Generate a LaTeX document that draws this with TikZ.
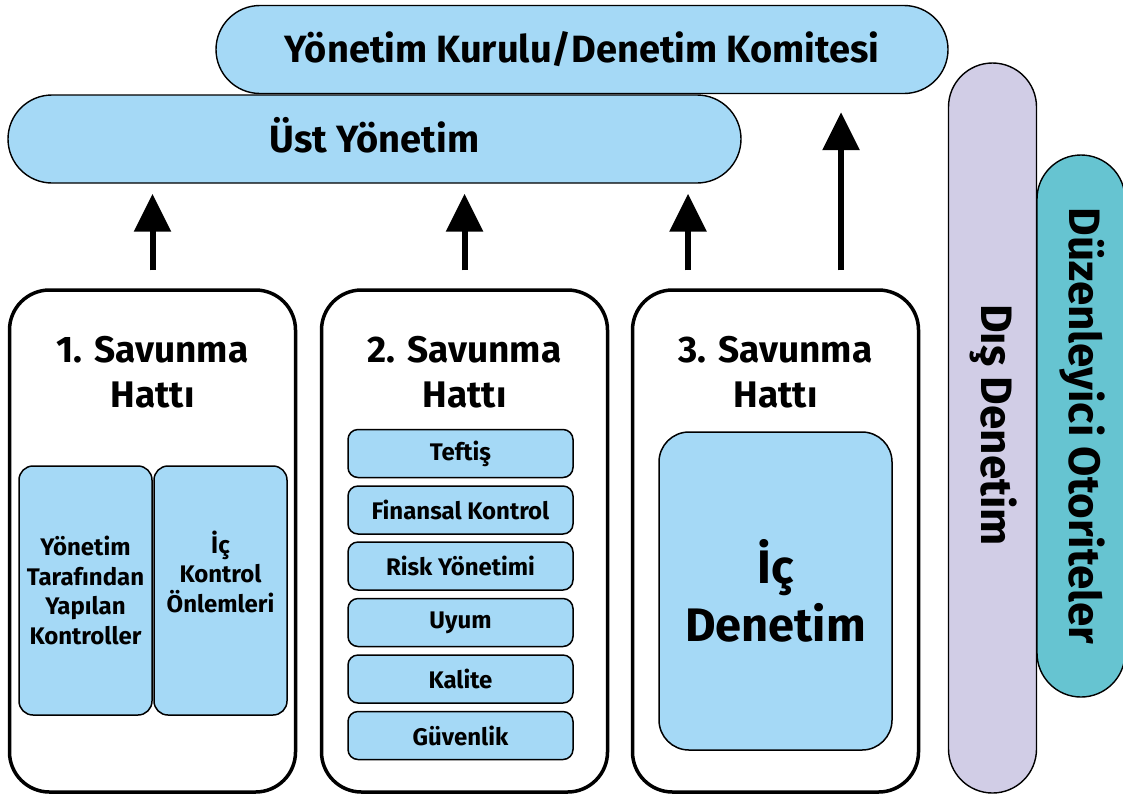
\documentclass[tikz,border=0pt]{standalone}
\usepackage{fontspec}
\setmainfont{Fira Sans}
\usetikzlibrary{arrows.meta}
\definecolor{skyfill}{HTML}{A5D9F6}
\definecolor{lavfill}{HTML}{D1CDE6}
\definecolor{tealfill}{HTML}{66C4D1}
\begin{document}
\begin{tikzpicture}[x=1pt,y=-1pt,
  font=\bfseries,
  pill/.style={draw=black, line width=1.4pt, inner sep=0pt, rounded corners=44pt, minimum height=88pt},
  vpill/.style={draw=black, line width=1.4pt, inner sep=0pt, rounded corners=44pt, minimum width=88pt},
  linebox/.style={draw=black, line width=3.5pt, fill=white, rounded corners=40pt, inner sep=0pt,
    minimum width=286pt, minimum height=502pt},
  cell/.style={draw=black, line width=1.5pt, fill=skyfill, rounded corners=14pt, inner sep=0pt,
    minimum width=133pt, minimum height=249pt, align=center,
    font=\bfseries\fontsize{24}{29.5}\selectfont},
  row/.style={draw=black, line width=1.5pt, fill=skyfill, rounded corners=10pt, inner sep=0pt,
    minimum width=225pt, minimum height=48pt, font=\bfseries\fontsize{24}{26}\selectfont},
  title/.style={align=center, font=\bfseries\fontsize{37}{45}\selectfont},
  vtext/.style={rotate=-90, font=\bfseries\fontsize{44}{46}\selectfont},
  arr/.style={line width=6pt, -{Triangle[width=36pt,length=38pt]}}
]
\useasboundingbox[fill=white] (0,0) rectangle (1123,796);

% governing bodies
\node[pill, fill=skyfill, minimum width=732pt, font=\bfseries\fontsize{38}{40}\selectfont]
  (board) at (582,49.5) {Yönetim Kurulu/Denetim Komitesi};
\node[pill, fill=skyfill, minimum width=733pt] (ust) at (374.5,139) {};
\node[font=\bfseries\fontsize{38}{40}\selectfont] (usttxt) at ([yshift=4pt]ust.center) {Üst Yönetim};

% external parties
\node[vpill, fill=lavfill, minimum height=730pt] (dis) at (992.5,428) {};
\node[vtext] (distxt) at (994,425) {Dış Denetim};
\node[vpill, fill=tealfill, minimum height=542pt] (duz) at (1081,426) {};
\node[vtext] (duztxt) at (1082,426) {Düzenleyici Otoriteler};

% three lines of defence
\node[linebox] (b1) at (152.5,541) {};
\node[linebox] (b2) at (464.5,541) {};
\node[linebox] (b3) at (775.5,541) {};

\node[title] (t1) at (152.5,372) {1. Savunma\\Hattı};
\node[title] (t2) at (464.5,372) {2. Savunma\\Hattı};
\node[title] (t3) at (775.5,372) {3. Savunma\\Hattı};

% first line contents
\node[cell] (c11) at (85.5,590.5) {Yönetim\\Tarafından\\Yapılan\\Kontroller};
\node[cell] (c12) at (220.5,590.5) {İç\\Kontrol\\Önlemleri\\\strut};

% second line contents
\node[row] (r1) at (460.5,453.5) {Teftiş};
\node[row] (r2) at (460.5,510) {Finansal Kontrol};
\node[row] (r3) at (460.5,566) {Risk Yönetimi};
\node[row] (r4) at (460.5,622.5) {Uyum};
\node[row] (r5) at (460.5,679) {Kalite};
\node[row] (r6) at (460.5,735.5) {Güvenlik};

% third line contents
\node[draw=black, line width=1.5pt, fill=skyfill, rounded corners=30pt, inner sep=0pt,
  minimum width=233pt, minimum height=318pt, align=center,
  font=\bfseries\fontsize{47}{58}\selectfont] (ic) at (775.5,591) {İç\\Denetim};

% reporting arrows
\coordinate (a3) at ([xshift=-87.5pt]b3.north);
\coordinate (a4) at ([xshift=65.5pt]b3.north);
\draw[arr, shorten <=18pt, shorten >=10pt] (b1.north) -- (b1.north |- ust.south);
\draw[arr, shorten <=18pt, shorten >=10pt] (b2.north) -- (b2.north |- ust.south);
\draw[arr, shorten <=18pt, shorten >=10pt] (a3) -- (a3 |- ust.south);
\draw[arr, shorten <=18pt, shorten >=18pt] (a4) -- (a4 |- board.south);
\end{tikzpicture}
\end{document}
